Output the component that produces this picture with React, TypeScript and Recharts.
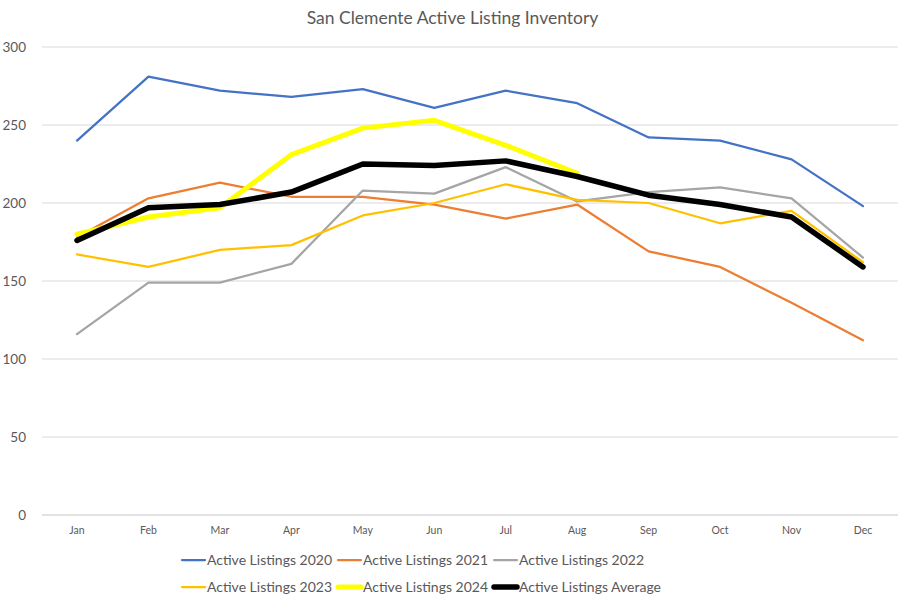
import React from "react";
import { LineChart, Line, XAxis, YAxis, CartesianGrid, Legend } from "recharts";

const months = ["Jan", "Feb", "Mar", "Apr", "May", "Jun", "Jul", "Aug", "Sep", "Oct", "Nov", "Dec"];
const listings2020 = [240, 281, 272, 268, 273, 261, 272, 264, 242, 240, 228, 198];
const listings2021 = [178, 203, 213, 204, 204, 199, 190, 199, 169, 159, 136, 112];
const listings2022 = [116, 149, 149, 161, 208, 206, 223, 201, 207, 210, 203, 165];
const listings2023 = [167, 159, 170, 173, 192, 200, 212, 202, 200, 187, 195, 162];
const listings2024: (number | null)[] = [180, 191, 197, 231, 248, 253, 237, 219, null, null, null, null];
const listingsAvg = [176, 197, 199, 207, 225, 224, 227, 217, 205, 199, 191, 159];
const yTicks = [0, 50, 100, 150, 200, 250, 300];

const series = [
  { key: "a2020", name: "Active Listings 2020", color: "#4472C4", width: 2.25 },
  { key: "a2021", name: "Active Listings 2021", color: "#ED7D31", width: 2.25 },
  { key: "a2022", name: "Active Listings 2022", color: "#A5A5A5", width: 2.25 },
  { key: "a2023", name: "Active Listings 2023", color: "#FFC000", width: 2.25 },
  { key: "a2024", name: "Active Listings 2024", color: "#FFFF00", width: 5 },
  { key: "avg", name: "Active Listings Average", color: "#000000", width: 5.5 },
];

const data = months.map((m, i) => ({
  month: m,
  a2020: listings2020[i],
  a2021: listings2021[i],
  a2022: listings2022[i],
  a2023: listings2023[i],
  a2024: listings2024[i],
  avg: listingsAvg[i],
}));

const FONT = "Lato, 'Open Sans', sans-serif";
const TEXT = "#595959";

const legendX = [182, 338, 494];
const legendY = [15, 42];

const CustomLegend = () => (
  <svg width={905} height={61} style={{ display: "block" }}>
    {series.map((s, i) => {
      const col = i % 3;
      const row = Math.floor(i / 3);
      const x = legendX[col];
      const y = legendY[row];
      return (
        <g key={s.key}>
          <line
            x1={x}
            x2={x + 23}
            y1={y}
            y2={y}
            stroke={s.color}
            strokeWidth={s.width}
            strokeLinecap="round"
          />
          <text
            x={x + 25}
            y={y}
            dy="0.35em"
            fontSize={14}
            fontFamily={FONT}
            fill={TEXT}
          >
            {s.name}
          </text>
        </g>
      );
    })}
  </svg>
);

export default function App() {
  return (
    <div style={{ position: "absolute", left: 0, top: 0, width: 905, height: 606, background: "#fff" }}>
      <div
        style={{
          position: "absolute",
          top: 7,
          left: 0,
          width: 905,
          textAlign: "center",
          fontFamily: FONT,
          fontSize: 17.5,
          color: TEXT,
        }}
      >
        San Clemente Active Listing Inventory
      </div>
      <LineChart
        width={905}
        height={606}
        data={data}
        margin={{ top: 47, right: 7, bottom: 0, left: 0 }}
      >
        <CartesianGrid vertical={false} stroke="#D9D9D9" strokeWidth={1} />
        <XAxis
          dataKey="month"
          height={30}
          padding={{ left: 35, right: 35 }}
          tickLine={false}
          axisLine={{ stroke: "#D9D9D9" }}
          tick={{ fontSize: 10.5, fill: TEXT, fontFamily: FONT }}
          tickMargin={6}
          interval={0}
        />
        <YAxis
          width={42}
          domain={[0, 300]}
          ticks={yTicks}
          axisLine={false}
          tickLine={false}
          tickSize={0}
          tickMargin={16}
          tick={{ fontSize: 13.5, fill: TEXT, fontFamily: FONT }}
        />
        {series.map((s) => (
          <Line
            key={s.key}
            dataKey={s.key}
            name={s.name}
            stroke={s.color}
            strokeWidth={s.width}
            dot={false}
            activeDot={false}
            type="linear"
            isAnimationActive={false}
            strokeLinejoin="round"
            strokeLinecap="round"
          />
        ))}
        <Legend verticalAlign="bottom" height={61} content={() => <CustomLegend />} />
      </LineChart>
    </div>
  );
}
